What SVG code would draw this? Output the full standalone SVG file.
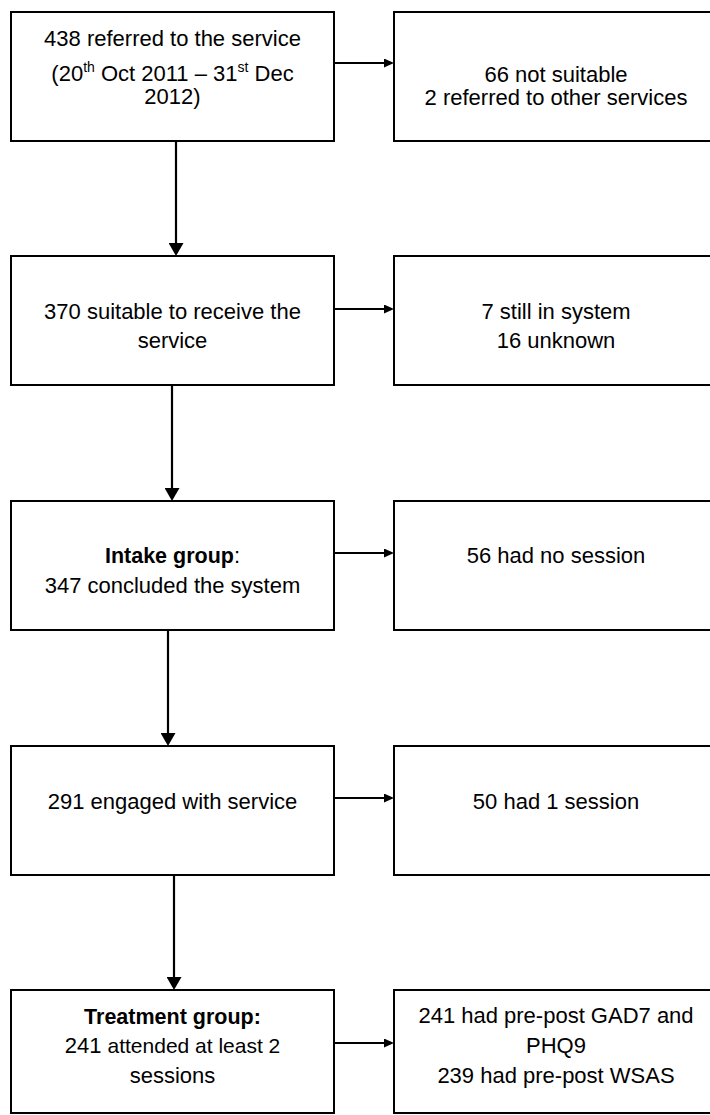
<svg xmlns="http://www.w3.org/2000/svg" width="710" height="1115" viewBox="0 0 710 1115">
<style>
.box{fill:#fff;stroke:#000;stroke-width:2}
.t{font-family:"Liberation Sans",Arial,sans-serif;font-size:22px;fill:#000;text-anchor:middle}
.b{font-weight:bold;font-size:21.5px}
.sup{font-size:14px}
.conn{stroke:#000;stroke-width:2.2;fill:none}
</style>
<defs>
<marker id="vh" markerUnits="userSpaceOnUse" markerWidth="15" markerHeight="15" refX="3" refY="7.5" orient="auto"><path d="M0,0 L13,7.5 L0,15 z" fill="#000"/></marker>
<marker id="hh" markerUnits="userSpaceOnUse" markerWidth="11" markerHeight="10" refX="2" refY="4.5" orient="auto"><path d="M0,0 L10,4.5 L0,9 z" fill="#000"/></marker>
</defs>
<rect width="710" height="1115" fill="#fff"/>
<g id="connectors">
<line class="conn" x1="176" y1="141" x2="176" y2="246" marker-end="url(#vh)"/>
<line class="conn" x1="172" y1="385" x2="172" y2="491" marker-end="url(#vh)"/>
<line class="conn" x1="168" y1="630" x2="168" y2="736" marker-end="url(#vh)"/>
<line class="conn" x1="174" y1="875" x2="174" y2="980" marker-end="url(#vh)"/>
<line class="conn" x1="333" y1="63" x2="386" y2="63" marker-end="url(#hh)"/>
<line class="conn" x1="333" y1="309" x2="386" y2="309" marker-end="url(#hh)"/>
<line class="conn" x1="333" y1="553" x2="386" y2="553" marker-end="url(#hh)"/>
<line class="conn" x1="333" y1="798" x2="386" y2="798" marker-end="url(#hh)"/>
<line class="conn" x1="333" y1="1043" x2="386" y2="1043" marker-end="url(#hh)"/>
</g>
<g id="n1">
<rect class="box" x="11" y="12" width="323" height="129"/>
<text class="t" x="172.5" y="46">438 referred to the service</text>
<text class="t" x="172.5" y="81">(20<tspan class="sup" dy="-9">th</tspan><tspan dy="9"> Oct 2011 – 31</tspan><tspan class="sup" dy="-9">st</tspan><tspan dy="9"> Dec</tspan></text>
<text class="t" x="172.5" y="104">2012)</text>
</g>
<g id="n1r">
<rect class="box" x="394" y="12" width="324" height="129"/>
<text class="t" x="556" y="82">66 not suitable</text>
<text class="t" x="556" y="105">2 referred to other services</text>
</g>
<g id="n2">
<rect class="box" x="11" y="256" width="323" height="129"/>
<text class="t" x="172.5" y="319">370 suitable to receive the</text>
<text class="t" x="172.5" y="348">service</text>
</g>
<g id="n2r">
<rect class="box" x="394" y="256" width="324" height="129"/>
<text class="t" x="556" y="319">7 still in system</text>
<text class="t" x="556" y="348">16 unknown</text>
</g>
<g id="n3">
<rect class="box" x="11" y="501" width="323" height="129"/>
<text class="t" x="172.5" y="563"><tspan class="b">Intake group</tspan>:</text>
<text class="t" x="172.5" y="593">347 concluded the system</text>
</g>
<g id="n3r">
<rect class="box" x="394" y="501" width="324" height="129"/>
<text class="t" x="556" y="563">56 had no session</text>
</g>
<g id="n4">
<rect class="box" x="11" y="746" width="323" height="129"/>
<text class="t" x="172.5" y="809">291 engaged with service</text>
</g>
<g id="n4r">
<rect class="box" x="394" y="746" width="324" height="129"/>
<text class="t" x="556" y="809">50 had 1 session</text>
</g>
<g id="n5">
<rect class="box" x="11" y="990" width="323" height="123"/>
<text class="t b" x="172.5" y="1024">Treatment group:</text>
<text class="t" x="172.5" y="1053">241 <tspan font-size="21px">attended at least 2</tspan></text>
<text class="t" x="172.5" y="1083">sessions</text>
</g>
<g id="n5r">
<rect class="box" x="394" y="990" width="324" height="123"/>
<text class="t" x="556" y="1023">241 had pre-post GAD7 and</text>
<text class="t" x="556" y="1053">PHQ9</text>
<text class="t" x="556" y="1083">239 had pre-post WSAS</text>
</g>
</svg>
